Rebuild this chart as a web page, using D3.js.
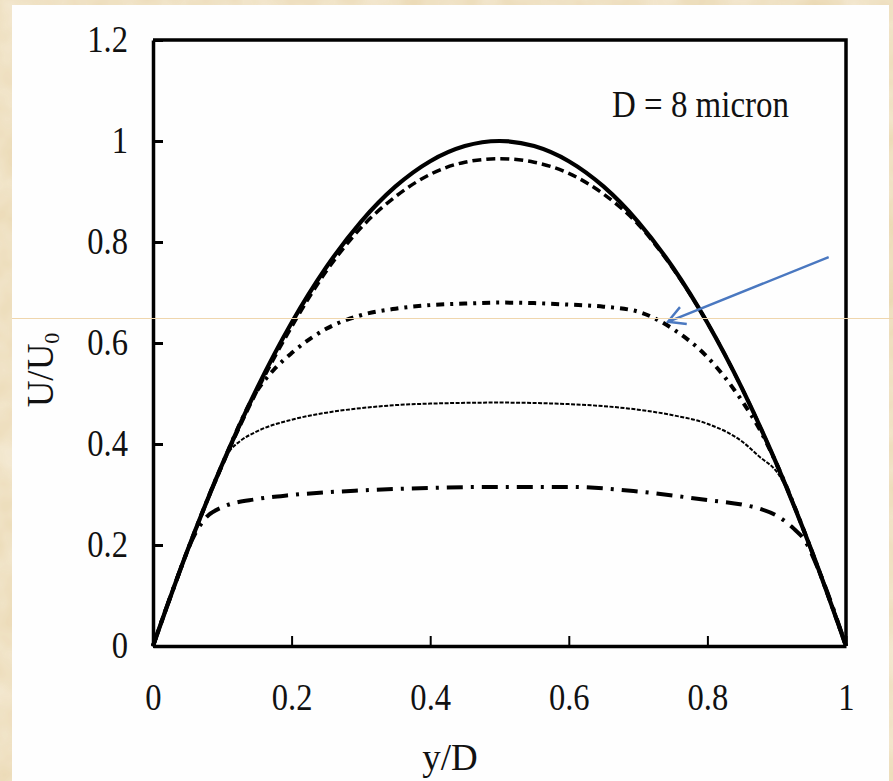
<!DOCTYPE html>
<html>
<head>
<meta charset="utf-8">
<script src="https://cdn.jsdelivr.net/npm/d3@7"></script>
<style>
  body { margin: 0; background: #ead8b2; }
  svg { display: block; }
  .axis path, .axis line { stroke: #000; }
  .axis text { font-family: "Liberation Serif", "Times New Roman", serif; font-size: 37px; fill: #111; }
</style>
</head>
<body>
<script>
var w = 893;
var h = 781;

// x ticks / y ticks
var xTicks = [0, 0.2, 0.4, 0.6, 0.8, 1];
var yTicks = [0, 0.2, 0.4, 0.6, 0.8, 1, 1.2];

// solid curve (no slip) and dashed curve
var yD = [0, 0.05, 0.1, 0.15, 0.2, 0.25, 0.3, 0.35, 0.4, 0.45, 0.5, 0.55, 0.6, 0.65, 0.7, 0.75, 0.8, 0.85, 0.9, 0.95, 1];
var uSolid = [0, 0.19, 0.36, 0.51, 0.64, 0.75, 0.84, 0.91, 0.96, 0.99, 1.0, 0.99, 0.96, 0.91, 0.84, 0.75, 0.64, 0.51, 0.36, 0.19, 0];
var uDashed = [0, 0.19, 0.358, 0.505, 0.632, 0.742, 0.828, 0.89, 0.934, 0.958, 0.965, 0.958, 0.936, 0.895, 0.835, 0.748, 0.64, 0.51, 0.36, 0.19, 0];

// dash-dot-dot curve (peak ~0.68)
var yMid = [0, 0.05, 0.1, 0.15, 0.175, 0.2, 0.25, 0.3, 0.35, 0.4, 0.45, 0.5, 0.55, 0.6, 0.65, 0.7, 0.75, 0.8, 0.85, 0.875, 0.9, 0.95, 1];
var uMid = [0, 0.19, 0.36, 0.505, 0.548, 0.58, 0.628, 0.655, 0.668, 0.675, 0.678, 0.68, 0.679, 0.676, 0.672, 0.662, 0.628, 0.572, 0.485, 0.43, 0.36, 0.19, 0];

// fine dotted curve (peak ~0.48)
var yLow = [0, 0.05, 0.1, 0.11, 0.125, 0.15, 0.2, 0.25, 0.3, 0.35, 0.4, 0.5, 0.6, 0.65, 0.7, 0.75, 0.8, 0.85, 0.875, 0.9, 0.95, 1];
var uLow = [0, 0.19, 0.36, 0.385, 0.405, 0.425, 0.448, 0.462, 0.471, 0.477, 0.48, 0.482, 0.479, 0.475, 0.468, 0.457, 0.44, 0.405, 0.375, 0.345, 0.19, 0];

// dash-dot curve (peak ~0.315)
var yBot = [0, 0.03, 0.06, 0.075, 0.1, 0.15, 0.2, 0.3, 0.4, 0.5, 0.6, 0.7, 0.8, 0.85, 0.875, 0.9, 0.925, 0.94, 0.96, 1];
var uBot = [0, 0.116, 0.22, 0.252, 0.275, 0.291, 0.299, 0.308, 0.313, 0.315, 0.315, 0.306, 0.289, 0.28, 0.272, 0.258, 0.232, 0.21, 0.152, 0];

var svg = d3.select("body").append("svg")
    .attr("width", w)
    .attr("height", h);

// parchment texture
var defs = svg.append("defs");
var f = defs.append("filter").attr("id", "paper").attr("x", 0).attr("y", 0).attr("width", "100%").attr("height", "100%");
f.append("feTurbulence").attr("type", "fractalNoise").attr("baseFrequency", "0.025").attr("numOctaves", 3).attr("seed", 4);
f.append("feColorMatrix").attr("type", "matrix")
    .attr("values", "0 0 0 0 0.93  0 0 0 0 0.86  0 0 0 0 0.72  0 0 0 -1.1 1.0");
svg.append("rect").attr("width", w).attr("height", h).attr("fill", "#ead8b2");
svg.append("rect").attr("width", w).attr("height", h).attr("filter", "url(#paper)").attr("opacity", 0.9);

// white panel
svg.append("rect")
    .attr("x", 12).attr("y", 5)
    .attr("width", 877).attr("height", 776)
    .attr("fill", "#fefefe");

var xScale = d3.scaleLinear().domain([0, 1]).range([153, 846]);
var yScale = d3.scaleLinear().domain([0, 1.2]).range([646, 40]);

var line = d3.line()
    .x(function(d) { return xScale(d[0]); })
    .y(function(d) { return yScale(d[1]); })
    .curve(d3.curveMonotoneX);

function pairs(xs, us) { return xs.map(function(x, i) { return [x, us[i]]; }); }

var curves = [
    { data: pairs(yBot, uBot), width: 4, dash: "16,8,3,8" },
    { data: pairs(yLow, uLow), width: 2, dash: "4,1.5" },
    { data: pairs(yMid, uMid), width: 4, dash: "8,6,3,6" },
    { data: pairs(yD, uDashed), width: 3.5, dash: "9,5" },
    { data: pairs(yD, uSolid), width: 4.2, dash: null }
];

curves.forEach(function(c) {
    svg.append("path")
        .datum(c.data)
        .attr("fill", "none")
        .attr("stroke", "#000")
        .attr("stroke-width", c.width)
        .attr("stroke-dasharray", c.dash)
        .attr("d", line);
});

// frame (top and right)
svg.append("path")
    .attr("d", "M" + xScale(0) + "," + yScale(1.2) + "H" + xScale(1) + "V" + yScale(0))
    .attr("fill", "none")
    .attr("stroke", "#000")
    .attr("stroke-width", 3.5);

// axes
var sx = 0.88;  // labels in the figure are narrow
var xAxis = d3.axisBottom(xScale).tickValues(xTicks).tickSizeInner(-10).tickSizeOuter(0).tickPadding(38)
    .tickFormat(function(d) { return d3.format("")(d); });
var yAxis = d3.axisLeft(yScale).tickValues(yTicks).tickSizeInner(-10).tickSizeOuter(0).tickPadding(25)
    .tickFormat(function(d) { return d3.format("")(d); });

var gx = svg.append("g").attr("class", "axis")
    .attr("transform", "translate(0," + yScale(0) + ")")
    .call(xAxis);
var gy = svg.append("g").attr("class", "axis")
    .attr("transform", "translate(" + xScale(0) + ",0)")
    .call(yAxis);
gx.select(".domain").attr("stroke-width", 3.5);
gy.select(".domain").attr("stroke-width", 3.5);
gx.selectAll(".tick line").attr("stroke-width", 2);
gy.selectAll(".tick line").attr("stroke-width", 3);
gx.selectAll(".tick text").attr("transform", "scale(" + sx + ",1)");
gy.selectAll(".tick text").attr("transform", "scale(" + sx + ",1)").attr("x", -25 / sx);

// axis titles
svg.append("text")
    .attr("x", 450).attr("y", 770)
    .attr("text-anchor", "middle")
    .style("font-family", "Liberation Serif, serif")
    .style("font-size", "37px")
    .attr("fill", "#111")
    .text("y/D");

var yt = svg.append("text")
    .attr("transform", "translate(53,370) rotate(-90)")
    .attr("text-anchor", "middle")
    .style("font-family", "Liberation Serif, serif")
    .style("font-size", "37px")
    .attr("fill", "#111");
yt.append("tspan").text("U/U");
yt.append("tspan").attr("baseline-shift", "-25%").style("font-size", "22px").text("0");

// annotation
svg.append("text")
    .attr("x", 612).attr("y", 117)
    .attr("textLength", 177)
    .attr("lengthAdjust", "spacingAndGlyphs")
    .style("font-family", "Liberation Serif, serif")
    .style("font-size", "38px")
    .attr("fill", "#111")
    .text("D = 8 micron");

// blue arrow
var ax0 = xScale(0.975), ay0 = yScale(0.77);
var ax1 = xScale(0.743), ay1 = yScale(0.642);
var ang = Math.atan2(ay0 - ay1, ax0 - ax1);
var hl = 19, spread = 0.5;
svg.append("path")
    .attr("d", "M" + ax0 + "," + ay0 + "L" + ax1 + "," + ay1 +
        "M" + (ax1 + hl * Math.cos(ang + spread)) + "," + (ay1 + hl * Math.sin(ang + spread)) +
        "L" + ax1 + "," + ay1 +
        "L" + (ax1 + hl * Math.cos(ang - spread)) + "," + (ay1 + hl * Math.sin(ang - spread)))
    .attr("fill", "none")
    .attr("stroke", "#4a78c0")
    .attr("stroke-width", 2.4);

// thin stray line across the image
svg.append("line")
    .attr("x1", 12).attr("x2", w)
    .attr("y1", 318.5).attr("y2", 318.5)
    .attr("stroke", "#efd6ad")
    .attr("stroke-width", 1);
</script>
</body>
</html>
